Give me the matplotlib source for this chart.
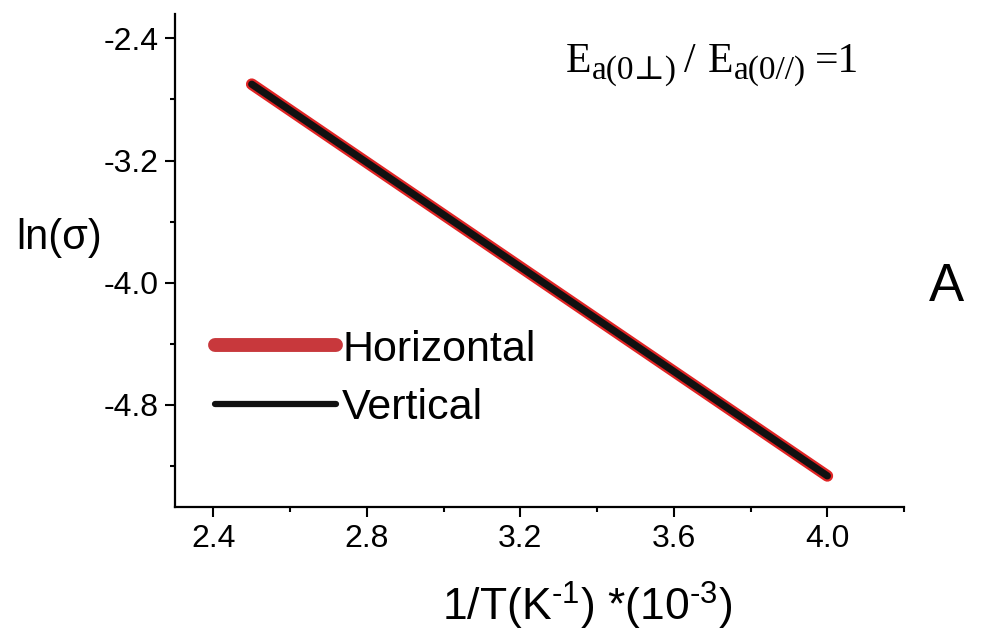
import matplotlib
matplotlib.use("Agg")
import matplotlib.pyplot as plt
from matplotlib.lines import Line2D
from matplotlib.ticker import MultipleLocator, FormatStrFormatter

# Arrhenius plot: ln(conductivity) vs inverse temperature
inv_T = [2.5, 4.0]                 # 1/T in 10^-3 K^-1
ln_sigma_horizontal = [-2.70, -5.266]
ln_sigma_vertical = [-2.70, -5.266]
series_labels = ["Horizontal", "Vertical"]

plt.rcParams["font.family"] = ["Liberation Sans", "DejaVu Sans"]

W, H = 987, 636
fig = plt.figure(figsize=(W / 100, H / 100), dpi=100)
ax = fig.add_axes([0.1773, 0.2028, 0.916 - 0.1773, 0.978 - 0.2028])

ax.plot(inv_T, ln_sigma_horizontal, color="#e02424", lw=8.4,
        solid_capstyle="round", zorder=3)
ax.plot(inv_T, ln_sigma_vertical, color="#111111", lw=5.2,
        solid_capstyle="round", zorder=4)

ax.set_xlim(2.3, 4.2)
ax.set_ylim(-5.47, -2.24)
ax.xaxis.set_major_locator(MultipleLocator(0.4))
ax.xaxis.set_minor_locator(MultipleLocator(0.2))
ax.yaxis.set_major_locator(MultipleLocator(0.8))
ax.yaxis.set_minor_locator(MultipleLocator(0.4))
ax.xaxis.set_major_formatter(FormatStrFormatter("%.1f"))
ax.yaxis.set_major_formatter(FormatStrFormatter("%.1f"))

for side in ("top", "right"):
    ax.spines[side].set_visible(False)
for side in ("left", "bottom"):
    ax.spines[side].set_linewidth(1.6)

ax.tick_params(which="major", direction="out", length=7, width=1.5,
               labelsize=23, pad=5)
ax.tick_params(which="minor", direction="out", length=3.8, width=1.5)

ax.set_xlabel(r"1/T(K$\mathregular{^{‐1}}$) *(10$\mathregular{^{‐3}}$)",
              fontsize=32)
ax.xaxis.set_label_coords(0.565, -0.148)
ax.set_ylabel("ln(σ)", fontsize=30, rotation=0, va="center", ha="left")
ax.yaxis.set_label_coords(-0.218, 0.545)

handles = [
    Line2D([0], [0], color="#c8383c", lw=10, solid_capstyle="round"),
    Line2D([0], [0], color="#111111", lw=4.5, solid_capstyle="round"),
]
ax.legend(handles, series_labels, loc="upper left",
          bbox_to_anchor=(0.055, 0.36), frameon=False, fontsize=31,
          handlelength=2.8, handletextpad=0.15, labelspacing=0.42,
          borderpad=0, borderaxespad=0)

# Ratio annotation laid out piece by piece (main text + subscripts)
serif = ["Liberation Serif", "DejaVu Serif"]
renderer = fig.canvas.get_renderer()
pieces = [  # text, size, baseline shift (px), gap after (px)
    ("E", 30, 0, 0),
    ("a(0⊥)", 24, -7, 8),
    ("/", 30, 0, 12),
    ("E", 30, 0, 0),
    ("a(0//)", 24, -7, 9),
    ("=1", 30, 0, 0),
]
x_px, base_px = 566, H - 72
for s, size, dy, gap in pieces:
    t = fig.text(x_px / W, (base_px + dy) / H, s, fontsize=size,
                 family=serif, ha="left", va="baseline")
    x_px = t.get_window_extent(renderer).x1 + gap

fig.text(0.959, 0.548, "A", fontsize=38, ha="center", va="center")

fig.savefig("out.png", dpi=100)
